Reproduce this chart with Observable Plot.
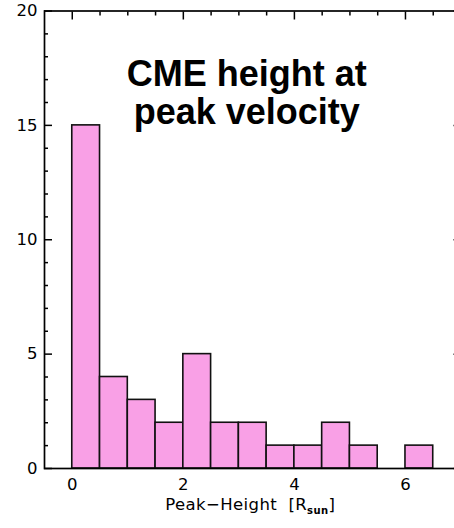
<!DOCTYPE html>
<html>
<head>
<meta charset="utf-8">
<script src="https://cdn.jsdelivr.net/npm/d3@7"></script>
<script src="https://cdn.jsdelivr.net/npm/@observablehq/plot@0.6"></script>
<style>
  html, body { margin: 0; padding: 0; background: white; overflow: hidden; width: 454px; height: 528px; }
  #chart svg { display: block; max-width: none !important; width: 470px !important; height: 528px !important; }
</style>
</head>
<body>
<div id="chart"></div>
<script>
// Histogram bins (lower edges, width 0.5 R_sun) and counts
const binLo = [0, 0.5, 1, 1.5, 2, 2.5, 3, 3.5, 4, 4.5, 5, 5.5, 6];
const counts = [15, 4, 3, 2, 5, 2, 2, 1, 1, 2, 1, 0, 1];
const binWidth = 0.5;
const xMajor = [0, 2, 4, 6];
const xMinor = [0.5, 1, 1.5, 2.5, 3, 3.5, 4.5, 5, 5.5, 6.5];
const yMajor = [0, 5, 10, 15, 20];
const yMinor = [1, 2, 3, 4, 6, 7, 8, 9, 11, 12, 13, 14, 16, 17, 18, 19];
const titleLines = ["CME height at", "peak velocity"];
const xLabelMain = "Peak\u2212Height  [R";
const xLabelSub = "sun";

const data = binLo.map((lo, i) => ({lo, hi: lo + binWidth, count: counts[i]}));
const blank = () => "";

const chart = Plot.plot({
  width: 470,
  height: 528,
  marginLeft: 44,
  marginRight: 9.5,
  marginTop: 10.5,
  marginBottom: 60,
  x: {domain: [-0.5, 7]},
  y: {domain: [0, 20]},
  style: {fontFamily: "DejaVu Sans", fontSize: "17px", color: "black", background: "white"},
  marks: [
    Plot.rectY(data, {x1: "lo", x2: "hi", y: "count", fill: "#f9a0e6", stroke: "#111", strokeWidth: 1.6}),
    Plot.frame({stroke: "black", strokeWidth: 1.7}),
    Plot.axisX({anchor: "bottom", ticks: xMajor, tickSize: 0, tickPadding: 10, fontSize: 16.5, label: null, tickFormat: d => String(d)}),
    Plot.axisX({anchor: "top", ticks: xMajor, tickSize: 8, dy: 8, tickFormat: blank, label: null, strokeWidth: 1.5}),
    Plot.axisX({anchor: "top", ticks: xMinor, tickSize: 4, dy: 4, tickFormat: blank, label: null, strokeWidth: 1.5}),
    Plot.axisY({anchor: "left", ticks: yMajor, tickSize: 0, tickPadding: 7, fontSize: 16.5, label: null, tickFormat: d => String(d)}),
    Plot.axisY({anchor: "left", ticks: yMajor, tickSize: 8, dx: 8, tickFormat: blank, label: null, strokeWidth: 1.5}),
    Plot.axisY({anchor: "left", ticks: yMinor, tickSize: 4, dx: 4, tickFormat: blank, label: null, strokeWidth: 1.5}),
    Plot.axisY({anchor: "right", ticks: yMajor, tickSize: 8, dx: -8, tickFormat: blank, label: null, strokeWidth: 1.5}),
    Plot.text([titleLines.join("\n")], {
      frameAnchor: "top", dx: -6, dy: 47, lineAnchor: "top",
      fontSize: 36, fontWeight: "bold", fontFamily: "Liberation Sans, Arial, sans-serif",
      lineHeight: 1.08, text: d => d, fill: "black"
    })
  ]
});

document.getElementById("chart").appendChild(chart);

// x-axis label with subscript
const xs = chart.scale("x");
const cx = (xs.apply(-0.5) + xs.apply(7)) / 2;
const t = d3.select(chart).append("text")
  .attr("x", cx - 2)
  .attr("y", 510)
  .attr("text-anchor", "middle")
  .attr("fill", "black")
  .style("font-family", "DejaVu Sans")
  .style("font-size", "16.5px")
  .style("letter-spacing", "0.4px");
t.append("tspan").text(xLabelMain);
t.append("tspan").attr("font-size", "10px").attr("font-weight", "bold").attr("dy", 4).text(xLabelSub);
t.append("tspan").attr("dy", -4).text("]");
</script>
</body>
</html>
